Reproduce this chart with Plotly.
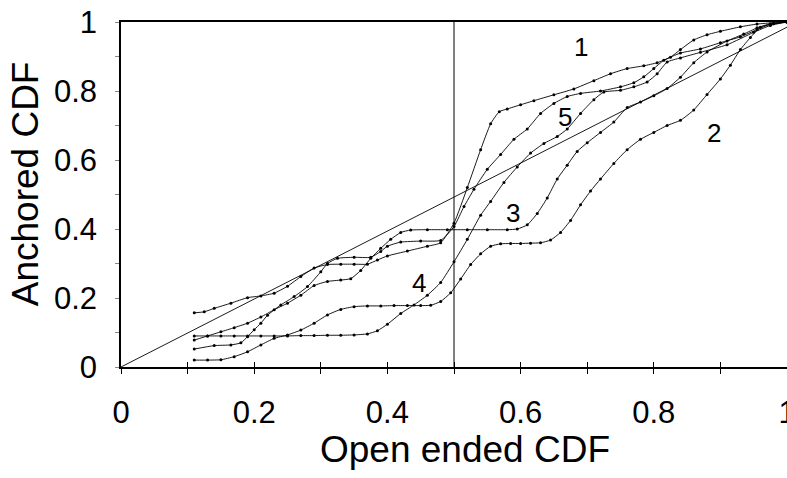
import plotly.graph_objects as go

# ---- data ----
c1_x = [0.11,0.125,0.14,0.165,0.19,0.21,0.23,0.25,0.27,0.29,0.31,0.33,0.35,0.37,0.385,0.40,0.43,0.46,0.48,0.50,0.52,0.54,0.555,0.568,0.58,0.60,0.62,0.65,0.68,0.71,0.735,0.76,0.785,0.805,0.825,0.84,0.86,0.88,0.90,0.93,0.955,0.98,1.0]
c1_y = [0.157,0.160,0.170,0.185,0.201,0.206,0.214,0.234,0.262,0.287,0.297,0.298,0.298,0.298,0.310,0.322,0.336,0.350,0.360,0.417,0.520,0.630,0.705,0.740,0.748,0.760,0.772,0.789,0.806,0.830,0.850,0.865,0.873,0.882,0.898,0.920,0.948,0.963,0.973,0.986,0.994,0.998,1.0]

c2_x = [0.11,0.13,0.15,0.17,0.19,0.21,0.23,0.25,0.27,0.29,0.31,0.33,0.35,0.37,0.39,0.41,0.43,0.45,0.465,0.48,0.495,0.51,0.525,0.54,0.555,0.57,0.585,0.60,0.615,0.63,0.645,0.66,0.675,0.69,0.705,0.72,0.74,0.76,0.78,0.80,0.82,0.84,0.86,0.88,0.90,0.915,0.93,0.945,0.96,0.98,1.0]
c2_y = [0.020,0.020,0.021,0.030,0.044,0.064,0.083,0.093,0.107,0.127,0.151,0.167,0.175,0.177,0.177,0.178,0.178,0.178,0.179,0.190,0.215,0.255,0.297,0.328,0.350,0.357,0.358,0.358,0.359,0.360,0.368,0.390,0.425,0.470,0.510,0.545,0.590,0.630,0.660,0.680,0.700,0.715,0.745,0.790,0.835,0.875,0.920,0.955,0.985,0.995,1.0]

c3_x = [0.11,0.13,0.15,0.17,0.19,0.21,0.23,0.25,0.27,0.29,0.31,0.33,0.345,0.36,0.375,0.39,0.405,0.42,0.435,0.46,0.49,0.52,0.55,0.58,0.595,0.61,0.625,0.64,0.655,0.67,0.685,0.70,0.72,0.74,0.76,0.78,0.80,0.82,0.84,0.86,0.88,0.91,0.935,0.955,0.975,1.0]
c3_y = [0.078,0.090,0.102,0.114,0.127,0.145,0.166,0.185,0.208,0.236,0.248,0.252,0.256,0.280,0.315,0.344,0.370,0.390,0.397,0.398,0.398,0.398,0.398,0.398,0.400,0.412,0.445,0.490,0.545,0.585,0.625,0.650,0.680,0.710,0.752,0.768,0.786,0.807,0.840,0.882,0.913,0.945,0.965,0.983,0.995,1.0]

c4_x = [0.11,0.13,0.15,0.17,0.19,0.21,0.23,0.25,0.27,0.29,0.31,0.33,0.35,0.37,0.385,0.40,0.42,0.44,0.46,0.48,0.50,0.52,0.54,0.555,0.575,0.595,0.615,0.635,0.655,0.67,0.69,0.71,0.725,0.75,0.77,0.79,0.805,0.82,0.84,0.87,0.91,0.95,0.975,1.0]
c4_y = [0.090,0.090,0.090,0.090,0.090,0.090,0.090,0.090,0.091,0.091,0.092,0.092,0.093,0.096,0.105,0.124,0.155,0.180,0.208,0.245,0.305,0.370,0.440,0.480,0.535,0.580,0.620,0.648,0.668,0.690,0.735,0.775,0.797,0.802,0.812,0.826,0.850,0.884,0.896,0.912,0.934,0.970,0.990,1.0]

c5_x = [0.11,0.14,0.165,0.18,0.19,0.20,0.21,0.22,0.24,0.26,0.28,0.30,0.31,0.325,0.35,0.375,0.39,0.40,0.42,0.45,0.48,0.50,0.515,0.53,0.55,0.57,0.59,0.61,0.63,0.65,0.67,0.69,0.72,0.75,0.77,0.785,0.80,0.815,0.84,0.87,0.90,0.93,0.955,0.975,1.0]
c5_y = [0.052,0.062,0.064,0.070,0.088,0.108,0.127,0.150,0.180,0.204,0.233,0.276,0.300,0.315,0.318,0.318,0.335,0.350,0.362,0.365,0.367,0.407,0.465,0.515,0.573,0.616,0.660,0.690,0.735,0.764,0.784,0.793,0.800,0.812,0.824,0.841,0.865,0.889,0.910,0.922,0.940,0.957,0.978,0.993,1.0]

diag_x = [0.0, 1.0]
diag_y = [0.0, 0.985]
median_x = [0.5, 0.5]
median_y = [0.0, 1.0]

label_text = ["1", "2", "3", "4", "5"]
label_x = [0.691, 0.891, 0.588, 0.447, 0.666]
label_y = [0.928, 0.678, 0.446, 0.243, 0.725]

tick_vals = [0.0, 0.1, 0.2, 0.3, 0.4, 0.5, 0.6, 0.7, 0.8, 0.9, 1.0]
tick_text = ["0", "", "0.2", "", "0.4", "", "0.6", "", "0.8", "", "1"]

x_title = "Open ended CDF"
y_title = "Anchored CDF"

FONT = "Liberation Sans, Arial, Helvetica, sans-serif"

fig = go.Figure()

fig.add_trace(go.Scatter(x=diag_x, y=diag_y, mode="lines",
                         line=dict(color="black", width=0.9), hoverinfo="skip"))
fig.add_trace(go.Scatter(x=median_x, y=median_y, mode="lines",
                         line=dict(color="black", width=1), hoverinfo="skip"))

for cx, cy in [(c1_x, c1_y), (c2_x, c2_y), (c3_x, c3_y), (c4_x, c4_y), (c5_x, c5_y)]:
    fig.add_trace(go.Scatter(x=cx, y=cy, mode="lines+markers",
                             line=dict(color="black", width=0.9, shape="spline", smoothing=0.5),
                             marker=dict(color="black", size=3.0, symbol="circle")))

# second x axis only to draw the inward half of the crossing ticks
fig.add_trace(go.Scatter(x=[0, 1], y=[0, 0], xaxis="x2", mode="markers",
                         marker=dict(opacity=0), hoverinfo="skip"))

for t, lx, ly in zip(label_text, label_x, label_y):
    fig.add_annotation(x=lx, y=ly, text=t, showarrow=False,
                       font=dict(size=26, color="black", family=FONT))

# axis titles
fig.add_annotation(xref="paper", yref="paper", x=0.5165, y=-0.24, text=x_title,
                   showarrow=False, xanchor="center", yanchor="middle",
                   font=dict(size=37, color="black", family=FONT))
fig.add_annotation(xref="paper", yref="paper", x=-0.144, y=0.53, text=y_title,
                   showarrow=False, xanchor="center", yanchor="middle", textangle=-90,
                   font=dict(size=37, color="black", family=FONT))

fig.update_layout(
    width=787, height=478,
    margin=dict(l=121, r=0, t=22, b=111, autoexpand=False),
    paper_bgcolor="white", plot_bgcolor="white",
    showlegend=False,
    font=dict(family=FONT, color="black"),
    xaxis=dict(range=[0, 1], tickvals=tick_vals, ticktext=tick_text,
               ticks="outside", ticklen=5, tickwidth=1, tickcolor="black",
               showline=True, linecolor="black", linewidth=1.5, mirror=True,
               showgrid=False, zeroline=False, ticklabeloverflow="allow",
               automargin=False,
               tickfont=dict(size=31, family=FONT), ticklabelstandoff=12),
    xaxis2=dict(range=[0, 1], overlaying="x", side="bottom", anchor="y",
                tickvals=tick_vals, ticks="inside", ticklen=5, tickwidth=1,
                tickcolor="black", showticklabels=False, showgrid=False,
                zeroline=False, showline=False),
    yaxis=dict(range=[0, 1], tickvals=tick_vals, ticktext=tick_text,
               ticks="outside", ticklen=4, tickwidth=1, tickcolor="#888888",
               showline=True, linecolor="black", linewidth=1.5,
               showgrid=False, zeroline=False, ticklabeloverflow="allow",
               automargin=False,
               tickfont=dict(size=31, family=FONT), ticklabelstandoff=12),
)

fig.write_html("out.html")
